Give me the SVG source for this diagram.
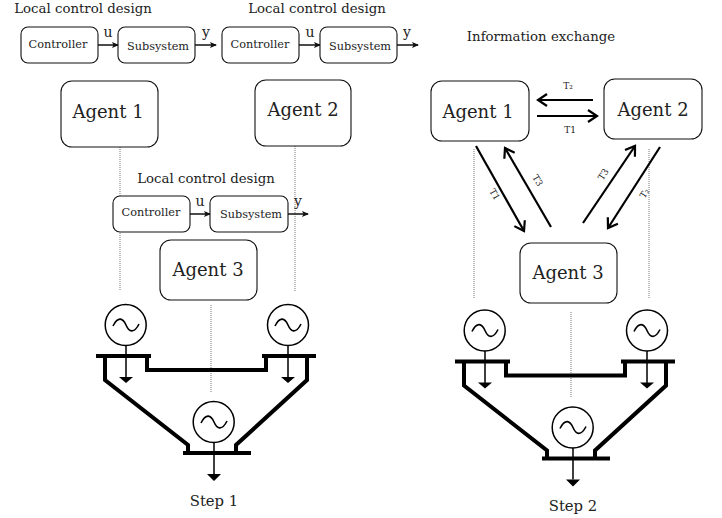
<svg xmlns="http://www.w3.org/2000/svg" xmlns:xlink="http://www.w3.org/1999/xlink" width="722" height="518" viewBox="0 0 722 518">
<style>
text{font-family:"DejaVu Serif","Liberation Serif",serif;fill:#222;text-anchor:middle}
.box{fill:#fff;stroke:#111;stroke-width:1.1}
.s{font-size:11.300px}
.h{font-size:13.300px}
.a{font-size:18px}
.l{font-size:14px}
.st{font-size:14.800px}
.t{font-size:9px}
.w{fill:none;stroke:#111;stroke-width:1.5}
.d{fill:none;stroke:#777;stroke-width:1;stroke-dasharray:1 1}
.g{fill:#fff;stroke:#000;stroke-width:1.5}
</style>
<defs>
<marker id="sm" markerUnits="userSpaceOnUse" markerWidth="8" markerHeight="8" refX="6" refY="4" orient="auto"><path d="M0 1 L7 4 L0 7 L1.5 4Z" fill="#111"/></marker>
<marker id="op" markerUnits="userSpaceOnUse" markerWidth="14" markerHeight="14" refX="11" refY="7" orient="auto"><path d="M2 1 L11 7 L2 13" fill="none" stroke="#000" stroke-width="2.200"/></marker>
<g id="grid">
<path d="M126 345V378M288 345V378M214 442V474" fill="none" stroke="#000" stroke-width="1.500"/>
<path d="M119 377H133L126 383ZM281 377H295L288 383ZM207 474H221L214 481Z" fill="#000"/>
<path d="M96 356H151M262 356H316M183 453H251" fill="none" stroke="#000" stroke-width="4"/>
<path d="M147 356V370H266V356M105 356V380L188 445V453M307 356V380L236 445V453" fill="none" stroke="#000" stroke-width="4"/>
<circle class="g" cx="125.700" cy="325" r="20.500"/>
<circle class="g" cx="288" cy="325" r="20.500"/>
<circle class="g" cx="213.700" cy="422" r="20.500"/>
<path d="M113 326C118 316 123 318 126 325C129 332 134 334 139 324M275 326C280 316 285 318 288 325C291 332 296 334 301 324M201 423C206 413 211 415 214 422C217 429 222 431 227 421" fill="none" stroke="#000" stroke-width="1.600"/>
</g>
</defs>
<g id="connectors">
<path class="d" d="M120 147V290M295 146V292M211 305V392M474 149V299M649 149V299M571 312V398"/>
<path class="w" marker-end="url(#sm)" d="M98 45H118"/>
<path class="w" marker-end="url(#sm)" d="M195 45H216"/>
<path class="w" marker-end="url(#sm)" d="M299 45H320"/>
<path class="w" marker-end="url(#sm)" d="M397 45H418"/>
<path class="w" marker-end="url(#sm)" d="M190 214H210"/>
<path class="w" marker-end="url(#sm)" d="M288 214H308"/>
<g fill="none" stroke="#000" stroke-width="2.200">
<path marker-end="url(#op)" d="M593 100H538"/>
<path marker-end="url(#op)" d="M537 116H597"/>
<path marker-end="url(#op)" d="M476 146L524 231"/>
<path marker-end="url(#op)" d="M551 227L505 148"/>
<path marker-end="url(#op)" d="M583 223L635 146"/>
<path marker-end="url(#op)" d="M660 147L608 228"/>
</g>
</g>
<g id="grid-1"><use xlink:href="#grid" href="#grid"/></g>
<g id="grid-2"><use xlink:href="#grid" href="#grid" transform="translate(359 5.500)"/></g>
<g id="agent-1-left"><rect class="box" x="61" y="81" width="97" height="66" rx="11"/><text class="a" x="108" y="118">Agent 1</text></g>
<g id="agent-2-left"><rect class="box" x="255" y="80" width="96" height="66" rx="11"/><text class="a" x="303" y="116">Agent 2</text></g>
<g id="agent-3-left"><rect class="box" x="160" y="240" width="97" height="60" rx="11"/><text class="a" x="208" y="276">Agent 3</text></g>
<g id="agent-1-right"><rect class="box" x="431" y="81" width="98" height="60" rx="11"/><text class="a" x="478" y="118">Agent 1</text></g>
<g id="agent-2-right"><rect class="box" x="604" y="79" width="98" height="60" rx="11"/><text class="a" x="653" y="116">Agent 2</text></g>
<g id="agent-3-right"><rect class="box" x="520" y="243" width="97" height="60" rx="11"/><text class="a" x="568" y="279">Agent 3</text></g>
<g id="controller-1"><rect class="box" x="21" y="27" width="77" height="36" rx="7"/><text class="s" x="58" y="48">Controller</text></g>
<g id="subsystem-1"><rect class="box" x="118" y="27" width="77" height="36" rx="7"/><text class="s" x="158" y="50">Subsystem</text></g>
<g id="controller-2"><rect class="box" x="222" y="27" width="77" height="36" rx="7"/><text class="s" x="260" y="48">Controller</text></g>
<g id="subsystem-2"><rect class="box" x="320" y="27" width="77" height="36" rx="7"/><text class="s" x="360" y="50">Subsystem</text></g>
<g id="controller-3"><rect class="box" x="113" y="196" width="77" height="36" rx="7"/><text class="s" x="151" y="216">Controller</text></g>
<g id="subsystem-3"><rect class="box" x="210" y="196" width="78" height="36" rx="7"/><text class="s" x="251" y="218">Subsystem</text></g>
<g id="labels">
<text class="h" x="83" y="13">Local control design</text>
<text class="h" x="317" y="13">Local control design</text>
<text class="h" x="206" y="183">Local control design</text>
<text class="h" x="541" y="41">Information exchange</text>
<text class="l" x="108" y="37">u</text><text class="l" x="206" y="37">y</text>
<text class="l" x="310" y="37">u</text><text class="l" x="407" y="37">y</text>
<text class="l" x="200" y="206">u</text><text class="l" x="298" y="206">y</text>
<text class="t" x="568" y="89">T₂</text>
<text class="t" x="570" y="133">T1</text>
<text class="t" transform="translate(492 196) rotate(60)">T1</text>
<text class="t" transform="translate(535 182) rotate(60)">T3</text>
<text class="t" transform="translate(606 176) rotate(-57)">T3</text>
<text class="t" transform="translate(647 195) rotate(-57)">T₂</text>
<text class="st" x="214" y="506">Step 1</text>
<text class="st" x="573" y="511">Step 2</text>
</g>
</svg>
